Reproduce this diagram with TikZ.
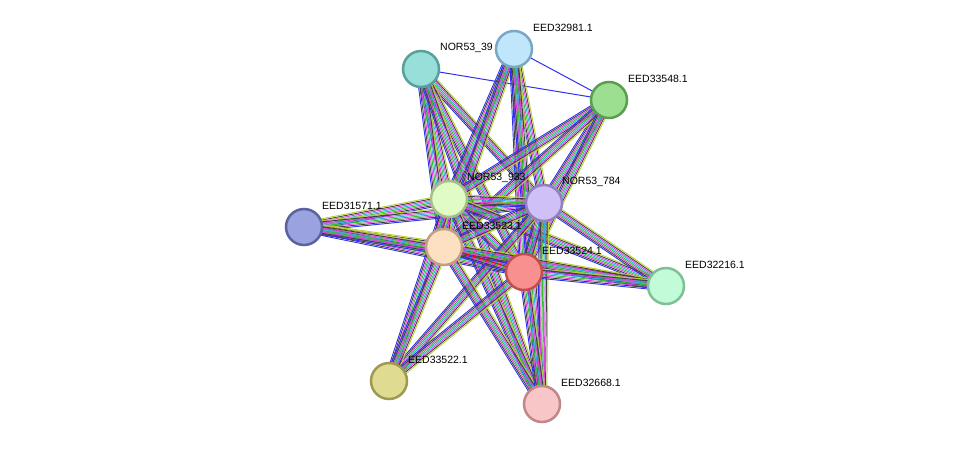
\documentclass[tikz,border=0pt]{standalone}
\usepackage{fontspec}
\setmainfont{Liberation Sans}
\usetikzlibrary{calc}
\definecolor{eb}{HTML}{3030F0}
\definecolor{ek}{HTML}{404040}
\definecolor{em}{HTML}{E040E0}
\definecolor{eg}{HTML}{30C030}
\definecolor{ec}{HTML}{30B0E0}
\definecolor{ey}{HTML}{B8D030}
\newcommand\bund[2]{\foreach \c [count=\i] in {eb,ek,em,eg,ec,em,ek,ey}{%
  \pgfmathsetmacro\o{(\i-4.5)*1.35}%
  \draw[color=\c,line width=0.9pt] ($(#1)!\o pt!90:(#2)$) -- ($(#2)!\o pt!-90:(#1)$);}}
\tikzset{prot/.style={circle,minimum size=36pt,inner sep=0pt,line width=2.5pt},
 lab/.style={anchor=west,font=\fontsize{10.5}{11}\selectfont,inner sep=0pt}}
\begin{document}
\begin{tikzpicture}[x=1pt,y=-1pt]
\useasboundingbox (0,0) rectangle (975,450);
\coordinate (A) at (421,69);
\coordinate (B) at (514,49);
\coordinate (B2) at (609,100);
\coordinate (C) at (449,199);
\coordinate (D) at (544,203);
\coordinate (E) at (304,227);
\coordinate (F) at (444,247);
\coordinate (G) at (524,272);
\coordinate (H) at (666,286);
\coordinate (J) at (389,381);
\coordinate (K) at (542,404);
\draw[eb,line width=1pt] (A) -- (B2);
\draw[eb,line width=1pt] (B) -- (B2);
\foreach \p/\q in {A/C,A/D,A/F,A/G,A/K,B/C,B/D,B/F,B/G,B/K,B2/C,B2/D,B2/F,B2/G,
 E/C,E/D,E/F,E/G,E/H,C/D,C/F,C/G,C/H,C/J,C/K,D/F,D/G,D/H,D/J,D/K,F/G,F/H,F/J,F/K,G/H,G/J,G/K}{\bund{\p}{\q}}
\draw[red,line width=1pt] (F) -- (G);
\node[prot,fill={rgb,255:red,153;green,223;blue,217},draw={rgb,255:red,88;green,160;blue,154}] (nA) at (A) {};
\node[lab] at (440,48) {NOR53\_39};
\node[prot,fill={rgb,255:red,192;green,230;blue,251},draw={rgb,255:red,122;green,168;blue,196}] (nB) at (B) {};
\node[lab] at (533,28) {EED32981.1};
\node[prot,fill={rgb,255:red,157;green,223;blue,144},draw={rgb,255:red,90;green,158;blue,82}] (nB2) at (B2) {};
\node[lab] at (628,79) {EED33548.1};
\node[prot,fill={rgb,255:red,225;green,251;blue,196},draw={rgb,255:red,164;green,192;blue,136}] (nC) at (C) {};
\node[prot,fill={rgb,255:red,208;green,192;blue,248},draw={rgb,255:red,144;green,128;blue,192}] (nD) at (D) {};
\node[lab] at (467,178) {NOR53\_933};
\node[lab] at (562,182) {NOR53\_784};
\node[prot,fill={rgb,255:red,154;green,163;blue,224},draw={rgb,255:red,90;green,99;blue,160}] (nE) at (E) {};
\node[lab] at (322,206) {EED31571.1};
\node[prot,fill={rgb,255:red,253;green,224;blue,194},draw={rgb,255:red,192;green,160;blue,128}] (nF) at (F) {};
\node[prot,fill={rgb,255:red,249;green,144;blue,144},draw={rgb,255:red,192;green,80;blue,80}] (nG) at (G) {};
\node[lab] at (462,226) {EED33523.1};
\node[lab] at (542,251) {EED33524.1};
\node[prot,fill={rgb,255:red,194;green,251;blue,216},draw={rgb,255:red,128;green,192;blue,152}] (nH) at (H) {};
\node[lab] at (685,265) {EED32216.1};
\node[prot,fill={rgb,255:red,223;green,220;blue,146},draw={rgb,255:red,160;green,154;blue,80}] (nJ) at (J) {};
\node[lab] at (408,360) {EED33522.1};
\node[prot,fill={rgb,255:red,248;green,198;blue,198},draw={rgb,255:red,192;green,136;blue,136}] (nK) at (K) {};
\node[lab] at (561,383) {EED32668.1};
\end{tikzpicture}
\end{document}
